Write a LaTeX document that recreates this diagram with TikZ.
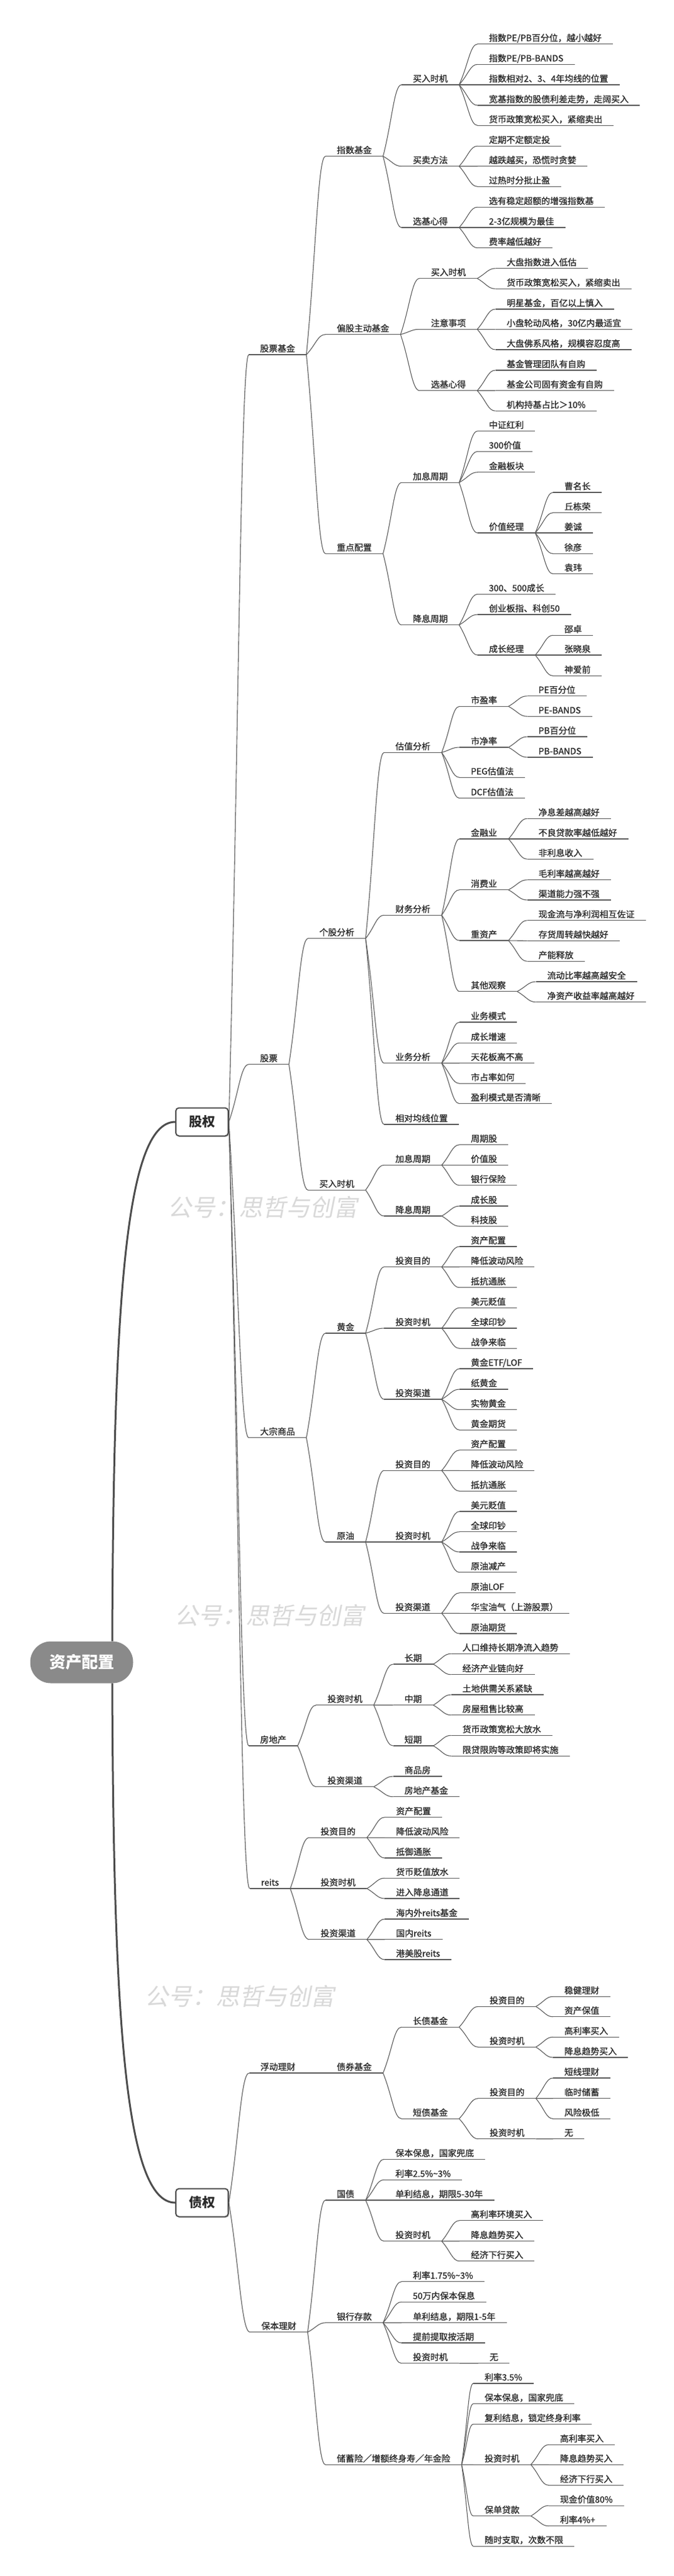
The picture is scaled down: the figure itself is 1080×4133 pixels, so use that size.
\documentclass[tikz,border=0pt]{standalone}
\usepackage{fontspec}
\setmainfont{Noto Sans CJK SC}
\newfontfamily\nf{Noto Sans CJK SC}[FakeBold=1.2]
\newfontfamily\wmf{Noto Sans CJK SC}[FakeSlant=0.2]
\usetikzlibrary{shadows,calc}
\definecolor{txt}{HTML}{2B2B2B}
\definecolor{ln}{HTML}{5A5A5A}
\definecolor{rootc}{HTML}{8A8A8A}
\definecolor{boxc}{HTML}{4D4D4D}
\definecolor{wmc}{HTML}{D9D9D9}
\tikzset{
  nd/.style={anchor=south west, inner xsep=18pt, inner ysep=2.5pt, text height=11pt, text depth=2pt,
    font=\fontsize{14}{16}\selectfont\nf, text=txt,
    append after command={(\tikzlastnode.south west) edge[ul] (\tikzlastnode.south east)}},
  ul/.style={draw=ln, line width=1.1pt},
  cl/.style={draw=ln, line width=1.1pt},
  cr/.style={draw=boxc, line width=3pt},
  bigbox/.style={draw=boxc, line width=2pt, rounded corners=5pt, fill=white, minimum width=84pt,
    minimum height=45pt, font=\fontsize{21}{24}\selectfont\bfseries, text=txt,
    drop shadow={shadow xshift=1.5pt, shadow yshift=-1.5pt, fill=black, opacity=0.25}},
  rootbox/.style={fill=rootc, rounded corners=33pt, minimum width=165pt, minimum height=67pt,
    text=white, font=\fontsize{26}{30}\selectfont\bfseries},
  wm/.style={text=wmc, font=\fontsize{38}{42}\selectfont\wmf, inner sep=0pt},
}
\newcommand\mnode[5][]{\node[nd,#1] (#2) at ({#3-18},#4) {#5};}
\newcommand\mcx[3][cl]{\draw[#1] let \p1=(#2), \p2=(#3) in (\p1) .. controls ({0.5*\x1+0.5*\x2},{0.5*\y1+0.5*\y2}) and ({0.4*\x1+0.6*\x2},\y2) .. (\p2);}
\newcommand\mroot[2]{\draw[cr] let \p1=(#1), \p2=(#2) in (\p1) .. controls ({\x1+2pt},{0.36*\y1+0.64*\y2}) and ({\x1+20pt},\y2) .. (\p2);}
\newcommand\mconn[2]{\mcx{#1.south east}{#2.south west}}
\begin{document}
\begin{tikzpicture}[x=1pt,y=-1pt]
\path[use as bounding box, fill=white] (0,0) rectangle (1080,4133);
% watermarks
\node[wm] (wm1) at (421,1937) {公号：思哲与创富};
\node[wm] (wm2) at (432,2592) {公号：思哲与创富};
\node[wm] (wm3) at (384,3203) {公号：思哲与创富};
% root and main boxes
\node[rootbox] (root) at (131,2667) {资产配置};
\coordinate (rt) at ($(root.north)+(49,0)$);
\coordinate (rb) at ($(root.south)+(49,0)$);
\node[bigbox] (gq) at (324,1800) {股权};
\node[bigbox] (zq) at (324,3534) {债权};
% ---- 股票基金
\mnode{gpjj}{417}{569}{股票基金}
\mnode{zsjj}{540}{250.7}{指数基金}
\mnode{pgjj}{540}{536.7}{偏股主动基金}
\mnode{zdpz}{540}{888.3}{重点配置}
\mnode{a1}{662}{136}{买入时机}
\mnode{a2}{662}{266.7}{买卖方法}
\mnode{a3}{662}{365}{选基心得}
\mnode{a1a}{784}{70.7}{指数PE/PB百分位，越小越好}
\mnode{a1b}{784}{103.3}{指数PE/PB-BANDS}
\mnode{a1c}{784}{136}{指数相对2、3、4年均线的位置}
\mnode{a1d}{784}{169}{宽基指数的股债利差走势，走阔买入}
\mnode{a1e}{784}{201.3}{货币政策宽松买入，紧缩卖出}
\mnode{a2a}{784}{234.3}{定期不定额定投}
\mnode{a2b}{784}{266.7}{越跌越买，恐慌时贪婪}
\mnode{a2c}{784}{299.3}{过热时分批止盈}
\mnode{a3a}{784}{332.3}{选有稳定超额的增强指数基}
\mnode{a3b}{784}{365}{2-3亿规模为最佳}
\mnode{a3c}{784}{397.7}{费率越低越好}
\mnode{b1}{691}{446.7}{买入时机}
\mnode{b2}{691}{528.3}{注意事项}
\mnode{b3}{691}{626.7}{选基心得}
\mnode{b1a}{812.5}{430.7}{大盘指数进入低估}
\mnode{b1b}{812.5}{463.3}{货币政策宽松买入，紧缩卖出}
\mnode{b2a}{812.5}{496}{明星基金，百亿以上慎入}
\mnode{b2b}{812.5}{528.3}{小盘轮动风格，30亿内最适宜}
\mnode{b2c}{812.5}{561}{大盘佛系风格，规模容忍度高}
\mnode{b3a}{812.5}{594}{基金管理团队有自购}
\mnode{b3b}{812.5}{626.7}{基金公司固有资金有自购}
\mnode{b3c}{812.5}{659.3}{机构持基占比＞10\%}
\mnode{c1}{662}{774.3}{加息周期}
\mnode{c2}{662}{1002.7}{降息周期}
\mnode{c1a}{784}{691.7}{中证红利}
\mnode{c1b}{784}{724.3}{300价值}
\mnode{c1c}{784}{757.7}{金融板块}
\mnode{c1d}{784}{855}{价值经理}
\mnode{c1da}{905}{790}{曹名长}
\mnode{c1db}{905}{822.7}{丘栋荣}
\mnode{c1dc}{905}{855}{姜诚}
\mnode{c1dd}{905}{888.3}{徐彦}
\mnode{c1de}{905}{920.7}{袁玮}
\mnode{c2a}{784}{953.3}{300、500成长}
\mnode{c2b}{784}{986}{创业板指、科创50}
\mnode{c2c}{784}{1051}{成长经理}
\mnode{c2ca}{905}{1019.3}{邵卓}
\mnode{c2cb}{905}{1051}{张晓泉}
\mnode{c2cc}{905}{1084.3}{神爱前}
% ---- 股票
\mnode{gp}{417}{1707.7}{股票}
\mnode{ggfx}{512}{1505.7}{个股分析}
\mnode{mrsj}{512}{1909.3}{买入时机}
\mnode{d1}{634}{1207.3}{估值分析}
\mnode{d2}{634}{1468.3}{财务分析}
\mnode{d3}{634}{1705.7}{业务分析}
\mnode{d4}{634}{1804}{相对均线位置}
\mnode{d1a}{755}{1133.3}{市盈率}
\mnode{d1b}{755}{1199}{市净率}
\mnode{d1c}{755}{1247.3}{PEG估值法}
\mnode{d1d}{755}{1280.7}{DCF估值法}
\mnode{d1aa}{863.5}{1116.7}{PE百分位}
\mnode{d1ab}{863.5}{1149.3}{PE-BANDS}
\mnode{d1ba}{863.5}{1182}{PB百分位}
\mnode{d1bb}{863.5}{1215}{PB-BANDS}
\mnode{d2a}{755}{1346}{金融业}
\mnode{d2b}{755}{1427.7}{消费业}
\mnode{d2c}{755}{1509}{重资产}
\mnode{d2d}{755}{1590.7}{其他观察}
\mnode{d2aa}{863.5}{1313.3}{净息差越高越好}
\mnode{d2ab}{863.5}{1346}{不良贷款率越低越好}
\mnode{d2ac}{863.5}{1378.3}{非利息收入}
\mnode{d2ba}{863.5}{1411.7}{毛利率越高越好}
\mnode{d2bb}{863.5}{1444}{渠道能力强不强}
\mnode{d2ca}{863.5}{1476.7}{现金流与净利润相互佐证}
\mnode{d2cb}{863.5}{1509.3}{存货周转越快越好}
\mnode{d2cc}{863.5}{1542.3}{产能释放}
\mnode{d2da}{877.5}{1575}{流动比率越高越安全}
\mnode{d2db}{877.5}{1607.7}{净资产收益率越高越好}
\mnode{d3a}{755}{1640}{业务模式}
\mnode{d3b}{755}{1673.3}{成长增速}
\mnode{d3c}{755}{1705.7}{天花板高不高}
\mnode{d3d}{755}{1738.3}{市占率如何}
\mnode{d3e}{755}{1770.7}{盈利模式是否清晰}
\mnode{e1}{634}{1869.3}{加息周期}
\mnode{e2}{634}{1951}{降息周期}
\mnode{e1a}{755}{1836.7}{周期股}
\mnode{e1b}{755}{1869.3}{价值股}
\mnode{e1c}{755}{1901.7}{银行保险}
\mnode{e2a}{755}{1935}{成长股}
\mnode{e2b}{755}{1967.3}{科技股}
% ---- 大宗商品
\mnode{dzsp}{417}{2306.7}{大宗商品}
\mnode{hj}{540}{2139}{黄金}
\mnode{yy}{540}{2474}{原油}
\mnode{f1}{634}{2032.7}{投资目的}
\mnode{f2}{634}{2131}{投资时机}
\mnode{f3}{634}{2245}{投资渠道}
\mnode{f1a}{755}{2000}{资产配置}
\mnode{f1b}{755}{2032.7}{降低波动风险}
\mnode{f1c}{755}{2065.7}{抵抗通胀}
\mnode{f2a}{755}{2098.3}{美元贬值}
\mnode{f2b}{755}{2131}{全球印钞}
\mnode{f2c}{755}{2163.3}{战争来临}
\mnode{f3a}{755}{2196}{黄金ETF/LOF}
\mnode{f3b}{755}{2229}{纸黄金}
\mnode{f3c}{755}{2261.7}{实物黄金}
\mnode{f3d}{755}{2294.3}{黄金期货}
\mnode{g1}{634}{2359.3}{投资目的}
\mnode{g2}{634}{2474}{投资时机}
\mnode{g3}{634}{2588.3}{投资渠道}
\mnode{g1a}{755}{2326.7}{资产配置}
\mnode{g1b}{755}{2359.3}{降低波动风险}
\mnode{g1c}{755}{2392.3}{抵抗通胀}
\mnode{g2a}{755}{2425}{美元贬值}
\mnode{g2b}{755}{2457.7}{全球印钞}
\mnode{g2c}{755}{2490}{战争来临}
\mnode{g2d}{755}{2522.7}{原油减产}
\mnode{g3a}{755}{2555.7}{原油LOF}
\mnode{g3b}{755}{2588.3}{华宝油气（上游股票）}
\mnode{g3c}{755}{2621}{原油期货}
% ---- 房地产
\mnode{fdc}{417}{2801}{房地产}
\mnode{h1}{525}{2735.7}{投资时机}
\mnode{h2}{525}{2866.7}{投资渠道}
\mnode{h1a}{648.5}{2670}{长期}
\mnode{h1b}{648.5}{2735.7}{中期}
\mnode{h1c}{648.5}{2801}{短期}
\mnode{h1aa}{741.5}{2653.3}{人口维持长期净流入趋势}
\mnode{h1ab}{741.5}{2686.7}{经济产业链向好}
\mnode{h1ba}{741.5}{2719}{土地供需关系紧缺}
\mnode{h1bb}{741.5}{2751.7}{房屋租售比较高}
\mnode{h1ca}{741.5}{2784.3}{货币政策宽松大放水}
\mnode{h1cb}{741.5}{2817.3}{限贷限购等政策即将实施}
\mnode{h2a}{648.5}{2850}{商品房}
\mnode{h2b}{648.5}{2882.7}{房地产基金}
% ---- reits
\mnode{reits}{418.5}{3030}{reits}
\mnode{i1}{514}{2948.3}{投资目的}
\mnode{i2}{514}{3030}{投资时机}
\mnode{i3}{514}{3111.7}{投资渠道}
\mnode{i1a}{635}{2915.7}{资产配置}
\mnode{i1b}{635}{2948.3}{降低波动风险}
\mnode{i1c}{635}{2981}{抵御通胀}
\mnode{i2a}{635}{3013.3}{货币贬值放水}
\mnode{i2b}{635}{3046}{进入降息通道}
\mnode{i3a}{635}{3079}{海内外reits基金}
\mnode{i3b}{635}{3111.7}{国内reits}
\mnode{i3c}{635}{3144}{港美股reits}
% ---- 债权
\mnode{fdlc}{417.6}{3326}{浮动理财}
\mnode{zqjj}{540}{3326}{债券基金}
\mnode{j1}{662}{3252.3}{长债基金}
\mnode{j2}{662}{3399.3}{短债基金}
\mnode{j1a}{785}{3219.3}{投资目的}
\mnode{j1b}{785}{3284.3}{投资时机}
\mnode{j1aa}{905}{3203.3}{稳健理财}
\mnode{j1ab}{905}{3235.7}{资产保值}
\mnode{j1ba}{905}{3268.3}{高利率买入}
\mnode{j1bb}{905}{3301}{降息趋势买入}
\mnode{j2a}{785}{3366.7}{投资目的}
\mnode{j2b}{785}{3431.7}{投资时机}
\mnode{j2aa}{905}{3334}{短线理财}
\mnode{j2ab}{905}{3366.7}{临时储蓄}
\mnode{j2ac}{905}{3399.3}{风险极低}
\mnode{j2ba}{905}{3431.7}{无}
\mnode{bblc}{419}{3741.7}{保本理财}
\mnode{k1}{540}{3530}{国债}
\mnode{k2}{540}{3726.7}{银行存款}
\mnode{k3}{540}{3954.3}{储蓄险／增额终身寿／年金险}
\mnode{k1a}{634}{3464.3}{保本保息，国家兜底}
\mnode{k1b}{634}{3497.3}{利率2.5\%\textasciitilde3\%}
\mnode{k1c}{634}{3530}{单利结息，期限5-30年}
\mnode{k1d}{634}{3595.7}{投资时机}
\mnode{k1da}{755}{3562.7}{高利率环境买入}
\mnode{k1db}{755}{3595.7}{降息趋势买入}
\mnode{k1dc}{755}{3627.7}{经济下行买入}
\mnode{k2a}{662}{3660.7}{利率1.75\%\textasciitilde3\%}
\mnode{k2b}{662}{3693.3}{50万内保本保息}
\mnode{k2c}{662}{3726.7}{单利结息，期限1-5年}
\mnode{k2d}{662}{3759}{提前提取按活期}
\mnode{k2e}{662}{3791.7}{投资时机}
\mnode{k2ea}{785}{3791.7}{无}
\mnode{k3a}{777}{3824}{利率3.5\%}
\mnode{k3b}{777}{3856.7}{保本保息，国家兜底}
\mnode{k3c}{777}{3889.3}{复利结息，锁定终身利率}
\mnode{k3d}{777}{3954.3}{投资时机}
\mnode{k3e}{777}{4036.7}{保单贷款}
\mnode{k3f}{777}{4085}{随时支取，次数不限}
\mnode{k3da}{898}{3922.3}{高利率买入}
\mnode{k3db}{898}{3954.3}{降息趋势买入}
\mnode{k3dc}{898}{3987.3}{经济下行买入}
\mnode{k3ea}{898}{4020}{现金价值80\%}
\mnode{k3eb}{898}{4052.7}{利率4\%+}
% ---- connectors
\mroot{rt}{gq.west}
\mroot{rb}{zq.west}
\foreach \ch in {gpjj,gp,dzsp,fdc,reits} {\mcx{gq.east}{\ch.south west}}
\foreach \ch in {fdlc,bblc} {\mcx{zq.east}{\ch.south west}}
\foreach \pa/\ch in {gpjj/zsjj, gpjj/pgjj, gpjj/zdpz,
 zsjj/a1, zsjj/a2, zsjj/a3,
 a1/a1a, a1/a1b, a1/a1c, a1/a1d, a1/a1e,
 a2/a2a, a2/a2b, a2/a2c, a3/a3a, a3/a3b, a3/a3c,
 pgjj/b1, pgjj/b2, pgjj/b3,
 b1/b1a, b1/b1b, b2/b2a, b2/b2b, b2/b2c, b3/b3a, b3/b3b, b3/b3c,
 zdpz/c1, zdpz/c2,
 c1/c1a, c1/c1b, c1/c1c, c1/c1d,
 c1d/c1da, c1d/c1db, c1d/c1dc, c1d/c1dd, c1d/c1de,
 c2/c2a, c2/c2b, c2/c2c, c2c/c2ca, c2c/c2cb, c2c/c2cc,
 gp/ggfx, gp/mrsj,
 ggfx/d1, ggfx/d2, ggfx/d3, ggfx/d4,
 d1/d1a, d1/d1b, d1/d1c, d1/d1d,
 d1a/d1aa, d1a/d1ab, d1b/d1ba, d1b/d1bb,
 d2/d2a, d2/d2b, d2/d2c, d2/d2d,
 d2a/d2aa, d2a/d2ab, d2a/d2ac, d2b/d2ba, d2b/d2bb, d2c/d2ca, d2c/d2cb, d2c/d2cc, d2d/d2da, d2d/d2db,
 d3/d3a, d3/d3b, d3/d3c, d3/d3d, d3/d3e,
 mrsj/e1, mrsj/e2, e1/e1a, e1/e1b, e1/e1c, e2/e2a, e2/e2b,
 dzsp/hj, dzsp/yy, hj/f1, hj/f2, hj/f3,
 f1/f1a, f1/f1b, f1/f1c, f2/f2a, f2/f2b, f2/f2c, f3/f3a, f3/f3b, f3/f3c, f3/f3d,
 yy/g1, yy/g2, yy/g3,
 g1/g1a, g1/g1b, g1/g1c, g2/g2a, g2/g2b, g2/g2c, g2/g2d, g3/g3a, g3/g3b, g3/g3c,
 fdc/h1, fdc/h2, h1/h1a, h1/h1b, h1/h1c,
 h1a/h1aa, h1a/h1ab, h1b/h1ba, h1b/h1bb, h1c/h1ca, h1c/h1cb,
 h2/h2a, h2/h2b,
 reits/i1, reits/i2, reits/i3,
 i1/i1a, i1/i1b, i1/i1c, i2/i2a, i2/i2b, i3/i3a, i3/i3b, i3/i3c,
 fdlc/zqjj, zqjj/j1, zqjj/j2,
 j1/j1a, j1/j1b, j1a/j1aa, j1a/j1ab, j1b/j1ba, j1b/j1bb,
 j2/j2a, j2/j2b, j2a/j2aa, j2a/j2ab, j2a/j2ac, j2b/j2ba,
 bblc/k1, bblc/k2, bblc/k3,
 k1/k1a, k1/k1b, k1/k1c, k1/k1d, k1d/k1da, k1d/k1db, k1d/k1dc,
 k2/k2a, k2/k2b, k2/k2c, k2/k2d, k2/k2e, k2e/k2ea,
 k3/k3a, k3/k3b, k3/k3c, k3/k3d, k3/k3e, k3/k3f,
 k3d/k3da, k3d/k3db, k3d/k3dc, k3e/k3ea, k3e/k3eb}
 {\mconn{\pa}{\ch}}
\end{tikzpicture}
\end{document}
